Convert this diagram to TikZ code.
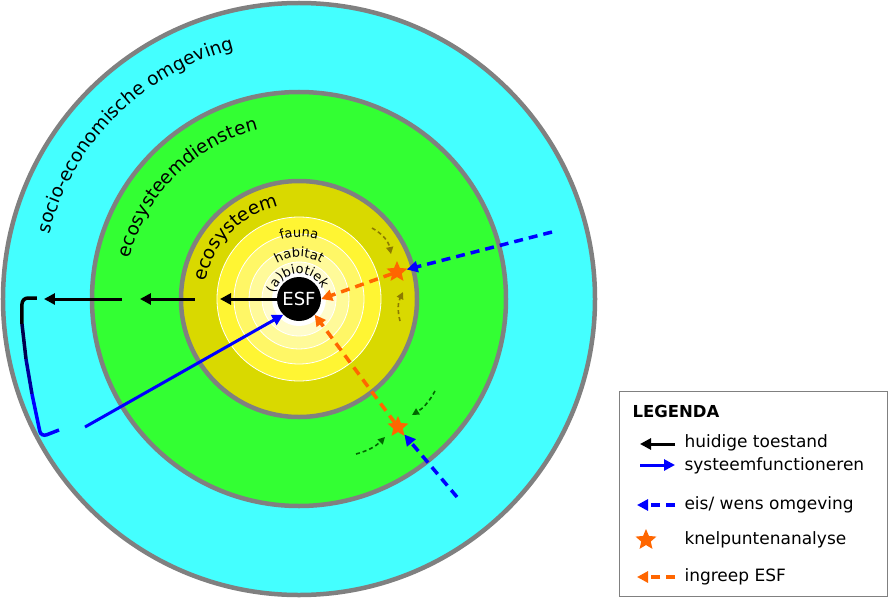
\documentclass[tikz,border=0pt]{standalone}
\usepackage{fontspec}
\setmainfont{DejaVu Sans}
\usetikzlibrary{shapes.geometric,decorations.text,arrows.meta}
\definecolor{socio}{HTML}{44FFFF}
\definecolor{diensten}{HTML}{33FF33}
\definecolor{eco}{HTML}{D9D900}
\definecolor{ring}{HTML}{808080}
\definecolor{knelpunt}{HTML}{FF6600}
\definecolor{bruin}{HTML}{8C7A00}
\definecolor{donkergroen}{HTML}{006600}
\newcommand{\groot}{\fontsize{18.5}{18.5}\selectfont}
\newcommand{\klein}{\fontsize{13}{13}\selectfont}
\tikzset{
  schil/.style={draw=ring,line width=4.5pt},
  laag/.style={draw=white,line width=0.8pt},
  boog/.style={decorate,decoration={text along path,text align=center,text={#1}}},
  toestand/.style={-{Triangle[length=11pt,width=11pt]},line width=3pt},
  eis/.style={-{Triangle[length=11pt,width=11pt]},line width=3.5pt,blue,dash pattern=on 9pt off 6pt},
  ingreep/.style={-{Triangle[length=11pt,width=11pt]},line width=3.5pt,knelpunt,dash pattern=on 9pt off 6pt},
  reactie/.style={-{Triangle[length=7pt,width=7pt]},line width=1.6pt,dash pattern=on 4pt off 3pt},
  ster/.style={star,star points=5,star point ratio=2.2,fill=knelpunt,inner sep=0pt,minimum size=22pt},
}
\begin{document}
\begin{tikzpicture}[x=1pt,y=1pt]
  \useasboundingbox (-299,-301) rectangle (591,299);
  % schillen
  \fill[socio] (0,0) circle (296);
  \draw[schil] (0,0) circle (296);
  \fill[diensten] (0,0) circle (207);
  \draw[schil] (0,0) circle (207);
  \fill[eco] (0,0) circle (118);
  \draw[schil] (0,0) circle (118);
  \filldraw[fill=yellow!80,laag] (0,0) circle (82);
  \filldraw[fill=yellow!60,laag] (0,0) circle (65);
  \filldraw[fill=yellow!40,laag] (0,0) circle (50);
  \filldraw[fill=yellow!20,laag] (0,0) circle (37);
  \fill[white] (0,0) circle (27);
  \node[circle,fill=black,text=white,minimum size=44pt,inner sep=0pt,font=\fontsize{18}{18}\selectfont] (esf) at (0,0) {ESF};
  % teksten langs de cirkels
  \path[boog={|\groot|socio-economische omgeving}] (172:258) arc[start angle=172,end angle=98,radius=258];
  \path[boog={|\groot|ecosysteemdiensten}] (172:174) arc[start angle=172,end angle=98,radius=174];
  \path[boog={|\groot|ecosysteem}] (176:95) arc[start angle=176,end angle=96,radius=95];
  \path[boog={|\klein|fauna}] (120:62) arc[start angle=120,end angle=60,radius=62];
  \path[boog={|\klein|habitat}] (130:42) arc[start angle=130,end angle=50,radius=42];
  \path[boog={|\klein|(a)biotiek}] (178:25) arc[start angle=178,end angle=12,radius=25];
  % knelpunten
  \node[ster] (ster1) at (98,27) {};
  \node[ster] (ster2) at (99,-128) {};
  \coordinate (eis1) at (253,67);
  \coordinate (eis2) at (158,-198);
  % huidige toestand
  \coordinate (a1) at (-79,0);
  \coordinate (a2) at (-104,0);
  \coordinate (a3) at (-159,0);
  \coordinate (a4) at (-177,0);
  \coordinate (a5) at (-255,0);
  \draw[toestand] (esf.west) -- (a1);
  \draw[toestand] (a2) -- (a3);
  \draw[toestand] (a4) -- (a5);
  \coordinate (b0) at (-262,1);
  \coordinate (b1) at (-240,-131);
  \coordinate (b2) at (-214,-128);
  \draw[line width=3.5pt,rounded corners=6pt,black] (b0) -- (-277,1) -- (-277,-25);
  \draw[line width=3.5pt,black!70!blue] (-277,-25) -- (-273,-60);
  \draw[line width=3.5pt,black!40!blue] (-273,-60) -- (-267,-95);
  \draw[line width=3.5pt,rounded corners=6pt,blue] (-267,-95) -- (-258,-138) -- (b1);
  \draw[toestand,blue] (b2) -- (esf.south west);
  % eisen en ingrepen
  \draw[eis] (eis1) -- (ster1);
  \draw[eis] (eis2) -- (ster2);
  \draw[ingreep] (ster1) -- (esf.east);
  \draw[ingreep] (ster2) -- (esf.south east);
  \draw[reactie,bruin] (73,71) to[bend left=25] (92,45);
  \draw[reactie,bruin] (101,-22) to[bend left=20] (104,7);
  \draw[reactie,donkergroen] (136,-92) to[bend left=15] (113,-116);
  \draw[reactie,donkergroen] (57,-155) to[bend left=-15] (86,-138);
  % legenda
  \node[draw=ring,line width=1pt,fill=white,minimum width=268pt,minimum height=205pt,inner sep=0pt] (legenda) at (454,-195) {};
  \begin{scope}[font=\fontsize{17}{17}\selectfont]
    \node[anchor=west,font=\fontsize{16.5}{16.5}\selectfont\bfseries] (titel) at (330,-112) {LEGENDA};
    \coordinate (l1a) at (376,-145);
    \coordinate (l1b) at (341,-145);
    \coordinate (l2a) at (341,-166);
    \coordinate (l2b) at (376,-166);
    \draw[toestand] (l1a) -- (l1b);
    \draw[toestand,blue] (l2a) -- (l2b);
    \node[anchor=west] (t1) at (382,-144) {huidige toestand};
    \node[anchor=west] (t2) at (382,-167) {systeemfunctioneren};
    \coordinate (l3a) at (376,-206);
    \coordinate (l3b) at (338,-206);
    \draw[eis] (l3a) -- (l3b);
    \node[anchor=west] (t3) at (382,-206) {eis/ wens omgeving};
    \node[ster] (l4) at (347,-241) {};
    \node[anchor=west] (t4) at (382,-241) {knelpuntenanalyse};
    \coordinate (l5a) at (376,-278);
    \coordinate (l5b) at (338,-278);
    \draw[ingreep] (l5a) -- (l5b);
    \node[anchor=west] (t5) at (382,-278) {ingreep ESF};
  \end{scope}
\end{tikzpicture}
\end{document}
